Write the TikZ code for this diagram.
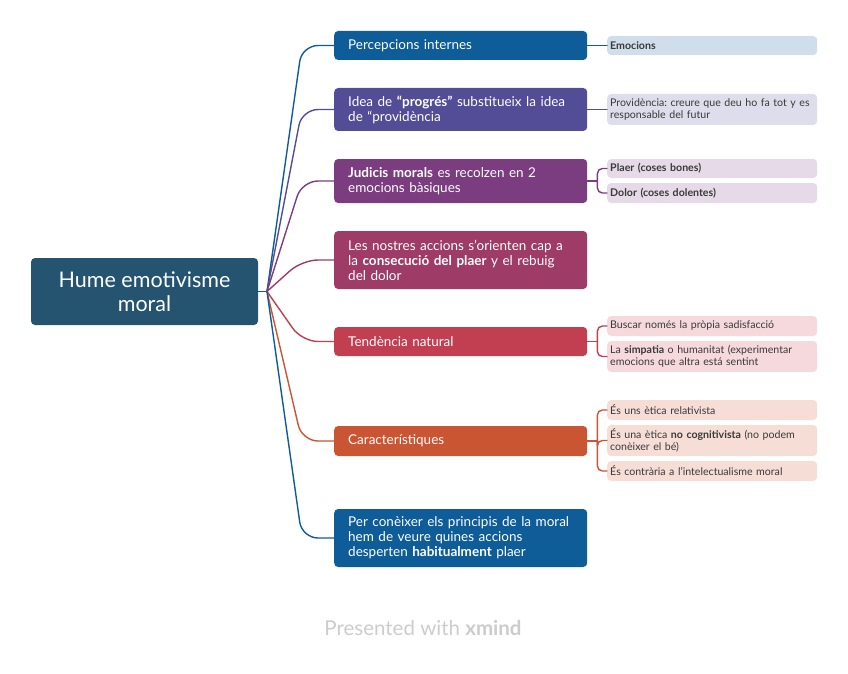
\documentclass[tikz,border=0pt]{standalone}
\usepackage{fontspec}
\setmainfont{Lato}
\frenchspacing
\usetikzlibrary{positioning}
\definecolor{rootc}{HTML}{245470}
\definecolor{c1}{HTML}{0E5C98}
\definecolor{c2}{HTML}{534C96}
\definecolor{c3}{HTML}{7B3D80}
\definecolor{c4}{HTML}{9E3B66}
\definecolor{c5}{HTML}{C23E51}
\definecolor{c6}{HTML}{C95532}
\definecolor{f1}{HTML}{D0DEEB}
\definecolor{f2}{HTML}{DEDDEB}
\definecolor{f3}{HTML}{E6DAE8}
\definecolor{f5}{HTML}{F6D9DD}
\definecolor{f6}{HTML}{F6DDD6}
\definecolor{leaftext}{HTML}{3A3A3A}
\begin{document}
\begin{tikzpicture}[x=1pt,y=-1pt,line join=round,line cap=round,
	root/.style={fill=rootc,text=white,rounded corners=4pt,minimum width=227pt,minimum height=67pt,align=center,font=\fontsize{21.5}{24}\selectfont},
	branch/.style={fill=#1,text=white,rounded corners=4pt,anchor=west,text width=225pt,inner xsep=14pt,inner ysep=0pt,align=left,font=\fontsize{13.5}{15}\selectfont},
	leaf/.style={fill=#1,text=leaftext,rounded corners=4pt,anchor=west,text width=204pt,inner xsep=3pt,inner ysep=0pt,align=left,font=\fontsize{10.6}{12}\selectfont},
	link/.style={draw=#1,line width=1.4pt,rounded corners=16pt},
	tie/.style={draw=#1,line width=1.4pt,rounded corners=5pt}]
		\useasboundingbox (0,0) rectangle (848,674);
		\node[root] (root) at (144.5,291.5) {Hume emotivisme\\moral};
		\node[branch=c1,minimum height=29pt] (b1) at (334,45.5) {Percepcions internes};
		\node[branch=c2,minimum height=43pt] (b2) at (334,109.5) {Idea de \textbf{“progrés”} substitueix la idea\\de “providència};
		\node[branch=c3,minimum height=44pt] (b3) at (334,181) {\textbf{Judicis morals} es recolzen en 2\\emocions bàsiques};
		\node[branch=c4,minimum height=58pt] (b4) at (334,260) {Les nostres accions s’orienten cap a\\la \textbf{consecució del plaer} y el rebuig\\del dolor};
		\node[branch=c5,minimum height=29pt] (b5) at (334,341.5) {Tendència natural};
		\node[branch=c6,minimum height=30pt] (b6) at (334,441) {Característiques};
		\node[branch=c1,minimum height=58pt] (b7) at (334,538) {Per conèixer els principis de la moral\\hem de veure quines accions\\desperten \textbf{habitualment} plaer};
		\node[leaf=f1,minimum height=19pt] (l1) at (607,45.5) {\textbf{Emocions}};
		\node[leaf=f2,minimum height=31pt] (l2) at (607,109.5) {Providència: creure que deu ho fa tot y es\\responsable del futur};
		\node[leaf=f3,minimum height=19pt] (l3a) at (607,168.5) {\textbf{Plaer (coses bones)}};
		\node[leaf=f3,minimum height=20pt] (l3b) at (607,193) {\textbf{Dolor (coses dolentes)}};
		\node[leaf=f5,minimum height=20pt] (l5a) at (607,326) {Buscar només la pròpia sadisfacció};
		\node[leaf=f5,minimum height=31pt] (l5b) at (607,356.5) {La \textbf{simpatia} o humanitat (experimentar\\emocions que altra está sentint};
		\node[leaf=f6,minimum height=20pt] (l6a) at (607,410) {És uns ètica relativista};
		\node[leaf=f6,minimum height=31pt] (l6b) at (607,440.5) {És una ètica \textbf{no cognitivista} (no podem\\conèixer el bé)};
		\node[leaf=f6,minimum height=20pt] (l6c) at (607,471) {És contrària a l’intelectualisme moral};
		\node[text=gray!40,font=\fontsize{20.5}{24}\selectfont] (credit) at (423,628) {Presented with \textbf{xmind}};
		\coordinate (hub) at (267,291.5);
		\coordinate (bend) at (302,0);
		\draw[link=rootc] (root.east) -- (hub);
		\foreach \b/\c in {b1/c1,b2/c2,b3/c3,b4/c4,b5/c5,b6/c6,b7/c1}
		\draw[link=\c] (hub) -- (\b.west -| bend) -- (\b.west);
		\draw[tie=c1] (b1.east) -- (l1.west);
		\draw[tie=c2] (b2.east) -- (l2.west);
		\coordinate[right=10pt of b3.east] (j3);
		\coordinate[right=10pt of b5.east] (j5);
		\coordinate[right=10pt of b6.east] (j6);
		\draw[tie=c3] (b3.east) -- (j3);
		\draw[tie=c3] (j3) |- (l3a.west);
		\draw[tie=c3] (j3) |- (l3b.west);
		\draw[tie=c5] (b5.east) -- (j5);
		\draw[tie=c5] (j5) |- (l5a.west);
		\draw[tie=c5] (j5) |- (l5b.west);
		\draw[tie=c6] (b6.east) -- (j6);
		\draw[tie=c6] (j6) |- (l6a.west);
		\draw[tie=c6] (j6) |- (l6b.west);
		\draw[tie=c6] (j6) |- (l6c.west);
\end{tikzpicture}
\end{document}
